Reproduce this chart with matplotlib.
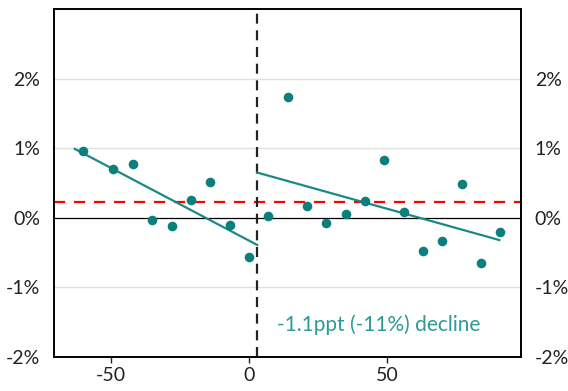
import matplotlib
matplotlib.use("Agg")
import matplotlib.pyplot as plt
from matplotlib.ticker import FuncFormatter

plt.rcParams['font.family'] = ['Lato', 'DejaVu Sans']
plt.rcParams['axes.unicode_minus'] = False

# Data
x_vals = [-60, -49, -42, -35, -28, -21, -14, -7, 0,
          7, 14, 21, 28, 35, 42, 49, 56, 63, 70, 77, 84, 91]
y_vals = [0.96, 0.70, 0.77, -0.03, -0.12, 0.25, 0.52, -0.11, -0.57,
          0.03, 1.73, 0.17, -0.08, 0.06, 0.24, 0.83, 0.09, -0.48, -0.33, 0.49, -0.65, -0.21]
left_fit_x = [-63, 3]
left_fit_y = [0.99, -0.39]
right_fit_x = [3, 90.6]
right_fit_y = [0.65, -0.32]
cutoff = 3
mean_level = 0.23
annotation = "-1.1ppt (-11%) decline"
yticks = [-2, -1, 0, 1, 2]
xticks = [-50, 0, 50]

teal = '#0b7f7b'
fig = plt.figure(figsize=(5.68, 3.91), dpi=100)
ax = fig.add_axes([0.0951, 0.087, 0.822, 0.890])

ax.set_xlim(-70.5, 98.4)
ax.set_ylim(-2, 3)

for yv in [-1, 1, 2]:
    ax.axhline(yv, color='#e0e0e0', lw=1, zorder=0)
ax.axhline(0, color='black', lw=0.9, zorder=1)
ax.axhline(mean_level, color='#ff0000', lw=1.6, ls=(0, (5, 4)), zorder=2)
ax.axvline(cutoff, color='#222222', lw=1.6, ls=(0, (4.5, 3)), zorder=2)

ax.plot(left_fit_x, left_fit_y, color='#1a8a86', lw=1.6, zorder=3)
ax.plot(right_fit_x, right_fit_y, color='#1a8a86', lw=1.6, zorder=3)
ax.scatter(x_vals, y_vals, s=48, color=teal, zorder=4, linewidths=0)

ax.text(3.0 + 7.0, -1.53, annotation, color='#2e9a96', fontsize=15, ha='left', va='center')

ax.set_xticks(xticks)
ax.set_yticks(yticks)
ax.yaxis.set_major_formatter(FuncFormatter(lambda v, p: f"{int(v)}%"))
ax.tick_params(axis='y', length=0, pad=10, labelsize=14, labelright=True, right=False, colors='#222222')
ax.tick_params(axis='x', length=4, width=1, labelsize=14, colors='#222222', pad=3)
for s in ax.spines.values():
    s.set_linewidth(1.4)
    s.set_color('black')

fig.savefig('out.png', dpi=100)
